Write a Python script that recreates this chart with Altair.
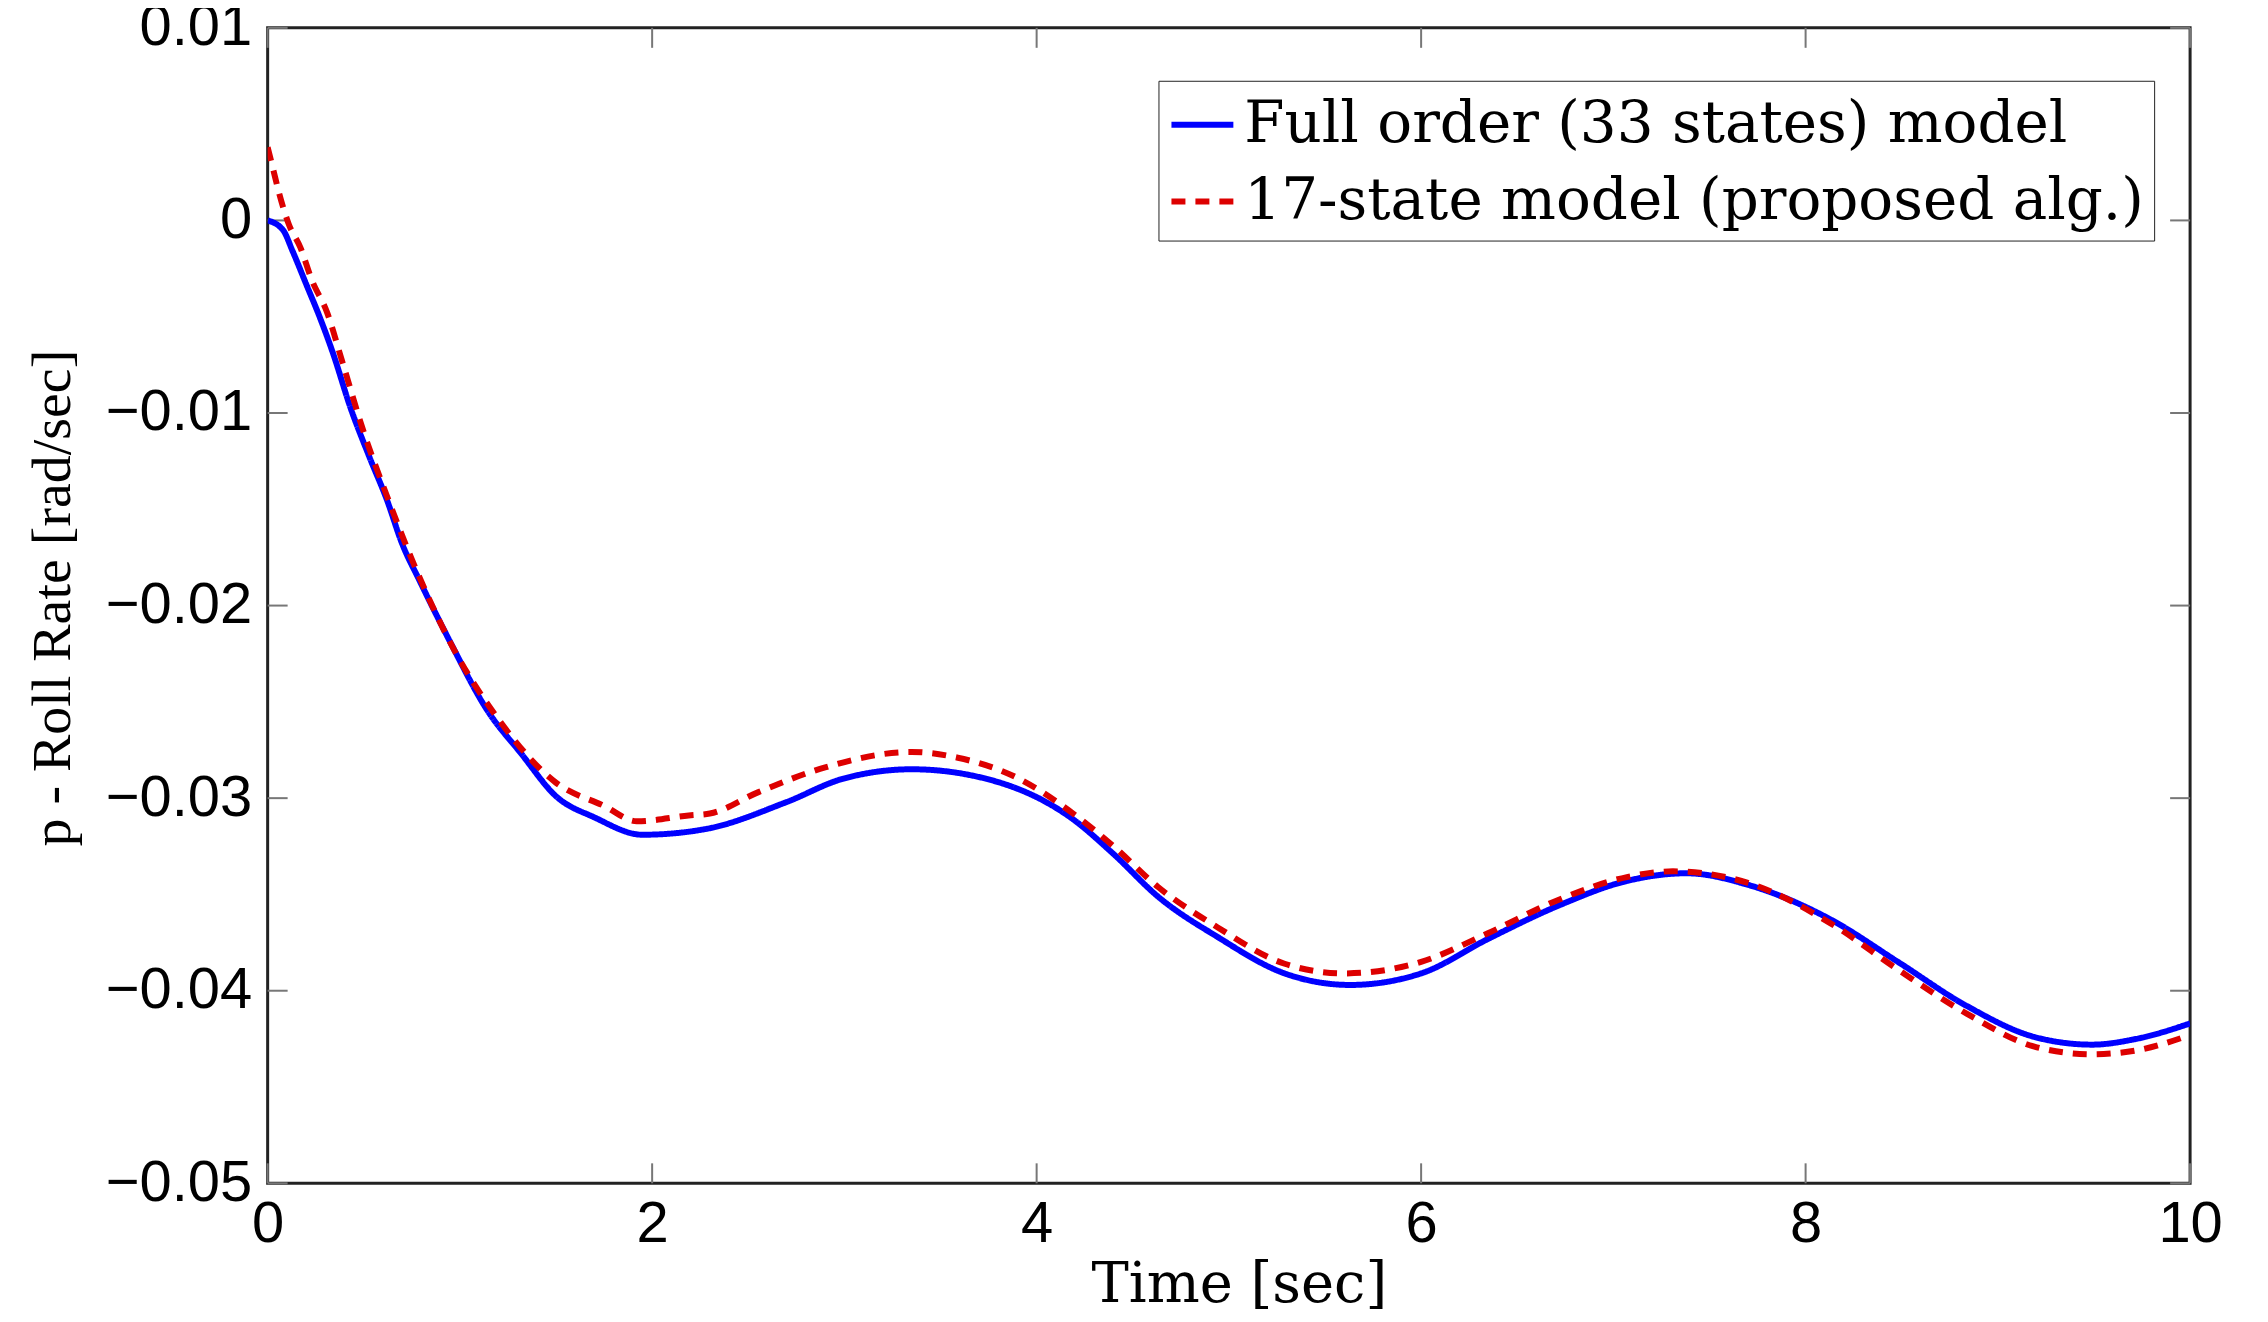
import altair as alt
import pandas as pd

series_names = ["Full order (33 states) model", "17-state model (proposed alg.)"]

full_t = [0, 0.08, 0.13, 0.2, 0.27, 0.34, 0.43, 0.53, 0.62, 0.70, 0.79, 0.95, 1.14, 1.32,
          1.5, 1.7, 1.95, 2.28, 2.7, 2.99, 3.35, 3.74, 4.19, 4.4, 4.63, 4.94, 5.29, 5.63, 6.0,
          6.35, 6.71, 7.07, 7.38, 7.70, 8.13, 8.48, 8.84, 9.19, 9.49, 9.72, 10]
full_v = [0, -0.0005, -0.0016, -0.0033, -0.0050, -0.0069, -0.0097, -0.0123, -0.0145, -0.0168,
          -0.0187, -0.0219, -0.0254, -0.0277, -0.0299, -0.0310, -0.0319, -0.0316, -0.0302,
          -0.0290, -0.0285, -0.0290, -0.0311, -0.0329, -0.0351, -0.0372, -0.0391, -0.0397,
          -0.0391, -0.0373, -0.0356, -0.0343, -0.0339, -0.0345, -0.0363, -0.0385, -0.0408,
          -0.0424, -0.0428, -0.0425, -0.0417]

red_t = [0, 0.03, 0.06, 0.11, 0.17, 0.23, 0.31, 0.39, 0.5, 0.62, 0.75, 0.97, 1.2, 1.5, 1.75,
         1.92, 2.19, 2.3, 2.55, 2.9, 3.35, 3.59, 3.89, 4.19, 4.4, 4.63, 4.94, 5.29, 5.6, 6.0,
         6.35, 6.71, 7.07, 7.31, 7.7, 8.13, 8.48, 8.84, 9.19, 9.49, 9.72, 10]
red_v = [0.0038, 0.0026, 0.0014, -0.0002, -0.0014, -0.0031, -0.0048, -0.0074, -0.0110, -0.0143,
         -0.0176, -0.0223, -0.0259, -0.0292, -0.0304, -0.0312, -0.0309, -0.0308, -0.0297,
         -0.0284, -0.0276, -0.0279, -0.0289, -0.0308, -0.0325, -0.0346, -0.0367, -0.0386,
         -0.0391, -0.0385, -0.0370, -0.0353, -0.0341, -0.0338, -0.0344, -0.0365, -0.0389,
         -0.0412, -0.0429, -0.0433, -0.0431, -0.0423]

x_ticks = [0, 2, 4, 6, 8, 10]
y_ticks = [-0.05, -0.04, -0.03, -0.02, -0.01, 0, 0.01]

W, H = 1925, 1157
TICK = 20

df_full = pd.DataFrame({"series": series_names[0], "t": full_t, "v": full_v})
df_red = pd.DataFrame({"series": series_names[1], "t": red_t, "v": red_v})
df_xt = pd.DataFrame({"t": x_ticks})
df_yt = pd.DataFrame({"v": y_ticks})

xscale = alt.Scale(domain=[0, 10], nice=False, zero=False)
yscale = alt.Scale(domain=[-0.05, 0.01], nice=False, zero=False)

xaxis = alt.Axis(values=x_ticks, format="d", labelFont="Liberation Sans", labelFontSize=58,
                 labelColor="black", labelPadding=12, labelFlush=False, labelOverlap=False,
                 ticks=False, domain=False, grid=False, title="Time [sec]",
                 titleFont="DejaVu Serif", titleFontSize=56, titleFontWeight="normal",
                 titleColor="black", titleX=W / 2 + 10, titleY=118, titleBaseline="alphabetic")
yaxis = alt.Axis(values=y_ticks, format=".2~f", labelFont="Liberation Sans", labelFontSize=58,
                 labelColor="black", labelPadding=16, labelFlush=False, labelOverlap=False,
                 ticks=False, domain=False, grid=False, title="p - Roll Rate [rad/sec]",
                 titleFont="Liberation Serif", titleFontSize=56, titleFontWeight="normal",
                 titleColor="black", titleX=-198, titleY=H / 2 - 8, titleBaseline="alphabetic",
                 titleAngle=270)

legend = alt.Legend(title=None, orient="none", legendX=892, legendY=53, symbolType="stroke",
                    symbolSize=3844, symbolStrokeWidth=6, labelFont="DejaVu Serif",
                    labelFontSize=58, labelColor="black", labelLimit=0, labelOffset=8,
                    strokeColor="#222", fillColor="white", padding=10, rowPadding=14)

color = alt.Color("series:N", scale=alt.Scale(domain=series_names, range=["#0000ff", "#dd0000"]),
                  legend=legend)
dash = alt.StrokeDash("series:N", scale=alt.Scale(domain=series_names, range=[[1, 0], [14, 10]]),
                      legend=legend)

def line_layer(df):
    return alt.Chart(df).mark_line(strokeWidth=6, interpolate="monotone", clip=True).encode(
        x=alt.X("t:Q", scale=xscale, axis=xaxis),
        y=alt.Y("v:Q", scale=yscale, axis=yaxis),
        color=color,
        strokeDash=dash,
    )

xt_bottom = alt.Chart(df_xt).mark_rule(color="#777", strokeWidth=2).encode(
    x=alt.X("t:Q", scale=xscale, axis=xaxis), y=alt.value(H - TICK), y2=alt.value(H))
xt_top = alt.Chart(df_xt).mark_rule(color="#777", strokeWidth=2).encode(
    x=alt.X("t:Q", scale=xscale, axis=xaxis), y=alt.value(0), y2=alt.value(TICK))
yt_left = alt.Chart(df_yt).mark_rule(color="#777", strokeWidth=2).encode(
    y=alt.Y("v:Q", scale=yscale, axis=yaxis), x=alt.value(0), x2=alt.value(TICK))
yt_right = alt.Chart(df_yt).mark_rule(color="#777", strokeWidth=2).encode(
    y=alt.Y("v:Q", scale=yscale, axis=yaxis), x=alt.value(W - TICK), x2=alt.value(W))

chart = alt.layer(
    xt_bottom, xt_top, yt_left, yt_right, line_layer(df_full), line_layer(df_red)
).properties(
    width=W, height=H,
    autosize=alt.AutoSizeParams(type="none"),
    padding={"left": 260, "top": 19, "right": 70, "bottom": 130},
    background="white",
).configure_view(stroke="#222", strokeWidth=3)

chart.save("out.html", embed_options={"renderer": "svg", "actions": False})
